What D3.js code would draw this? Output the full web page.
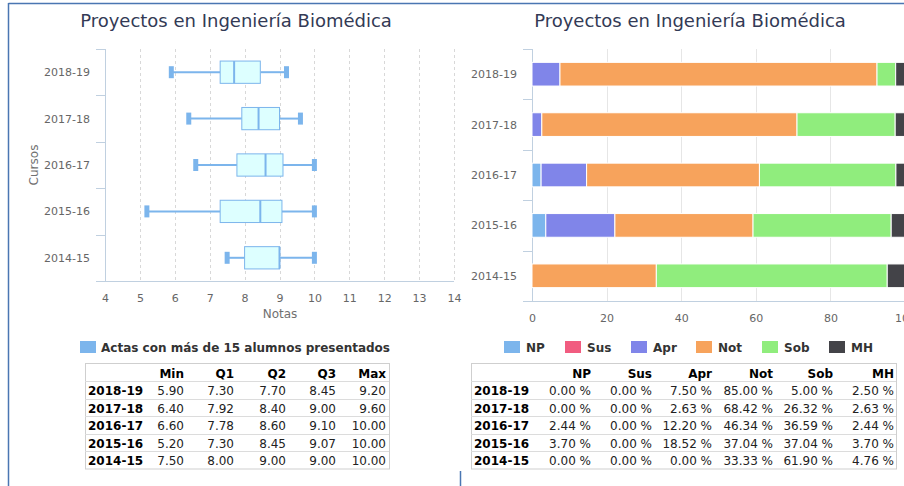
<!DOCTYPE html>
<html>
<head>
<meta charset="utf-8">
<script src="https://cdn.jsdelivr.net/npm/d3@7"></script>
<style>
  body { margin: 0; background: #fff; }
  svg { display: block; font-family: "DejaVu Sans", sans-serif; }
</style>
</head>
<body>
<svg id="graph" width="904" height="486"></svg>
<script>
// Datos
const cursos = ["2018-19", "2017-18", "2016-17", "2015-16", "2014-15"];
const notaMin = [5.90, 6.40, 6.60, 5.20, 7.50];
const notaQ1 = [7.30, 7.92, 7.78, 7.30, 8.00];
const notaQ2 = [7.70, 8.40, 8.60, 8.45, 9.00];
const notaQ3 = [8.45, 9.00, 9.10, 9.07, 9.00];
const notaMax = [9.20, 9.60, 10.00, 10.00, 10.00];
const notaTicks = [4, 5, 6, 7, 8, 9, 10, 11, 12, 13, 14];

const calificaciones = ["NP", "Sus", "Apr", "Not", "Sob", "MH"];
const pctNP = [0.00, 0.00, 2.44, 3.70, 0.00];
const pctSus = [0.00, 0.00, 0.00, 0.00, 0.00];
const pctApr = [7.50, 2.63, 12.20, 18.52, 0.00];
const pctNot = [85.00, 68.42, 46.34, 37.04, 33.33];
const pctSob = [5.00, 26.32, 36.59, 37.04, 61.90];
const pctMH = [2.50, 2.63, 2.44, 3.70, 4.76];
const pctTicks = [0, 20, 40, 60, 80, 100];

const colors = ["#7cb5ec", "#f15c80", "#8085e9", "#f7a35c", "#90ed7d", "#434348"];
const titulo = "Proyectos en Ingeniería Biomédica";

const svg = d3.select("#graph");

// Marco
svg.append("line").attr("x1", 8.5).attr("x2", 904).attr("y1", 3.5).attr("y2", 3.5)
  .attr("stroke", "#4a76b2").attr("stroke-width", 1.5);
svg.append("line").attr("x1", 8.5).attr("x2", 8.5).attr("y1", 3).attr("y2", 486)
  .attr("stroke", "#4a76b2").attr("stroke-width", 1.5);
svg.append("line").attr("x1", 460.5).attr("x2", 460.5).attr("y1", 471).attr("y2", 486)
  .attr("stroke", "#4a76b2").attr("stroke-width", 1.5);

// ---------- Diagrama de cajas ----------
const boxes = cursos.map((c, i) => ({
  curso: c, min: notaMin[i], q1: notaQ1[i], q2: notaQ2[i], q3: notaQ3[i], max: notaMax[i]
}));

const x1 = d3.scaleLinear().domain([4, 14]).range([105, 454]);
const y1 = d3.scaleBand().domain(cursos).range([49, 281]);

svg.append("text").attr("x", 236).attr("y", 27).attr("text-anchor", "middle")
  .attr("font-size", 18).attr("fill", "#333a55").text(titulo);

// Rejilla discontinua
svg.append("g").selectAll("line").data(notaTicks.slice(1)).join("line")
  .attr("x1", d => Math.round(x1(d)) + 0.5).attr("x2", d => Math.round(x1(d)) + 0.5)
  .attr("y1", 49).attr("y2", 281)
  .attr("stroke", "#d8d8d8").attr("stroke-dasharray", "3,3");

// Eje de valores
const ax1 = svg.append("g").attr("transform", "translate(0,281.5)")
  .call(d3.axisBottom(x1).tickValues(notaTicks).tickSize(0).tickPadding(13));
ax1.select(".domain").remove();
ax1.selectAll("text").attr("font-size", 11).attr("fill", "#666").attr("font-family", "DejaVu Sans");
svg.append("line").attr("x1", 96).attr("x2", 454).attr("y1", 281.5).attr("y2", 281.5).attr("stroke", "#c0d0e0");

// Eje de categorías
svg.append("line").attr("x1", 105.5).attr("x2", 105.5).attr("y1", 49).attr("y2", 281).attr("stroke", "#c0d0e0");
svg.append("g").selectAll("line").data(cursos.concat([null])).join("line")
  .attr("x1", 96).attr("x2", 105)
  .attr("y1", (d, i) => Math.round(49 + i * y1.step()) + 0.5)
  .attr("y2", (d, i) => Math.round(49 + i * y1.step()) + 0.5)
  .attr("stroke", "#c0d0e0");
svg.append("g").selectAll("text").data(cursos).join("text")
  .attr("x", 90).attr("y", d => y1(d) + y1.bandwidth() / 2 + 4)
  .attr("text-anchor", "end").attr("font-size", 11).attr("fill", "#666").text(d => d);

svg.append("text").attr("x", 280).attr("y", 318).attr("text-anchor", "middle")
  .attr("font-size", 12).attr("fill", "#707070").text("Notas");
svg.append("text").attr("transform", "translate(38,165) rotate(-90)").attr("text-anchor", "middle")
  .attr("font-size", 12).attr("fill", "#707070").text("Cursos");

const bh = y1.bandwidth() * 0.48;
const gBox = svg.append("g").selectAll("g").data(boxes).join("g")
  .attr("transform", d => `translate(0,${y1(d.curso) + y1.bandwidth() / 2})`);
gBox.append("line").attr("x1", d => x1(d.min)).attr("x2", d => x1(d.q1))
  .attr("y1", 0).attr("y2", 0).attr("stroke", colors[0]).attr("stroke-width", 2);
gBox.append("line").attr("x1", d => x1(d.q3)).attr("x2", d => x1(d.max))
  .attr("y1", 0).attr("y2", 0).attr("stroke", colors[0]).attr("stroke-width", 2);
gBox.append("rect").attr("x", d => x1(d.q1)).attr("y", -bh / 2)
  .attr("width", d => x1(d.q3) - x1(d.q1)).attr("height", bh)
  .attr("fill", "#ddffff").attr("stroke", colors[0]).attr("stroke-width", 1);
gBox.append("line").attr("x1", d => x1(d.q2)).attr("x2", d => x1(d.q2))
  .attr("y1", -bh / 2).attr("y2", bh / 2).attr("stroke", colors[0]).attr("stroke-width", 2);
gBox.selectAll("line.cap").data(d => [d.min, d.max]).join("line").attr("class", "cap")
  .attr("x1", d => x1(d)).attr("x2", d => x1(d)).attr("y1", -6).attr("y2", 6)
  .attr("stroke", colors[0]).attr("stroke-width", 5);

// Leyenda izquierda
svg.append("rect").attr("x", 80).attr("y", 341).attr("width", 16).attr("height", 12).attr("fill", colors[0]);
svg.append("text").attr("x", 101).attr("y", 352).attr("font-size", 12).attr("font-weight", "bold")
  .attr("fill", "#333").text("Actas con más de 15 alumnos presentados");

// ---------- Barras apiladas ----------
const rows = cursos.map((c, i) => ({
  curso: c, NP: pctNP[i], Sus: pctSus[i], Apr: pctApr[i], Not: pctNot[i], Sob: pctSob[i], MH: pctMH[i]
}));
const x2 = d3.scaleLinear().domain([0, 100]).range([532, 905]);
const y2 = d3.scaleBand().domain(cursos).range([49, 301]);

svg.append("text").attr("x", 690).attr("y", 27).attr("text-anchor", "middle")
  .attr("font-size", 18).attr("fill", "#333a55").text(titulo);

svg.append("g").selectAll("line").data(pctTicks.slice(1)).join("line")
  .attr("x1", d => Math.round(x2(d)) + 0.5).attr("x2", d => Math.round(x2(d)) + 0.5)
  .attr("y1", 49).attr("y2", 301).attr("stroke", "#e6e6e6");

const ax2 = svg.append("g").attr("transform", "translate(0,301.5)")
  .call(d3.axisBottom(x2).tickValues(pctTicks).tickSize(0).tickPadding(13));
ax2.select(".domain").remove();
ax2.selectAll("text").attr("font-size", 11).attr("fill", "#666").attr("font-family", "DejaVu Sans");
svg.append("line").attr("x1", 523).attr("x2", 904).attr("y1", 301.5).attr("y2", 301.5).attr("stroke", "#c0d0e0");
svg.append("line").attr("x1", 532.5).attr("x2", 532.5).attr("y1", 49).attr("y2", 301).attr("stroke", "#c0d0e0");
svg.append("g").selectAll("line").data(cursos.concat([null])).join("line")
  .attr("x1", 523).attr("x2", 532)
  .attr("y1", (d, i) => Math.round(49 + i * y2.step()) + 0.5)
  .attr("y2", (d, i) => Math.round(49 + i * y2.step()) + 0.5)
  .attr("stroke", "#c0d0e0");
svg.append("g").selectAll("text").data(cursos).join("text")
  .attr("x", 517).attr("y", d => y2(d) + y2.bandwidth() / 2 + 4)
  .attr("text-anchor", "end").attr("font-size", 11).attr("fill", "#666").text(d => d);

const stack = d3.stack().keys(calificaciones).offset(d3.stackOffsetExpand)(rows);
const barH = y2.bandwidth() * 0.47;
svg.append("g").selectAll("g").data(stack).join("g")
  .attr("fill", (d, i) => colors[i])
  .selectAll("rect").data(d => d).join("rect")
  .attr("x", d => x2(d[0] * 100)).attr("width", d => x2(d[1] * 100) - x2(d[0] * 100))
  .attr("y", d => y2(d.data.curso) + (y2.bandwidth() - barH) / 2).attr("height", barH)
  .attr("stroke", "#fff").attr("stroke-width", 1);

// Leyenda derecha
const legX = [504, 565, 631, 696, 762, 829];
const leg = svg.append("g").selectAll("g").data(calificaciones).join("g")
  .attr("transform", (d, i) => `translate(${legX[i]},341)`);
leg.append("rect").attr("width", 16).attr("height", 12).attr("fill", (d, i) => colors[i]);
leg.append("text").attr("x", 22).attr("y", 11).attr("font-size", 12).attr("font-weight", "bold")
  .attr("fill", "#333").text(d => d);

// ---------- Tablas ----------
function drawTable(x0, x1e, header, headX, body) {
  const g = svg.append("g");
  const top = 363, hh = 18, rh = 17.5;
  const nRows = body.length;
  const bottom = top + hh + nRows * rh;
  g.append("rect").attr("x", x0 + 0.5).attr("y", top + 0.5).attr("width", x1e - x0).attr("height", bottom - top)
    .attr("fill", "none").attr("stroke", "#cfcfcf");
  for (let r = 0; r < nRows; r++) {
    const yl = Math.round(top + hh + r * rh) + 0.5;
    g.append("line").attr("x1", x0).attr("x2", x1e).attr("y1", yl).attr("y2", yl).attr("stroke", "#dcdcdc");
  }
  header.forEach((h, j) => {
    g.append("text").attr("x", headX[j]).attr("y", top + 15).attr("text-anchor", "end")
      .attr("font-size", 12).attr("font-weight", "bold").attr("fill", "#000").text(h);
  });
  body.forEach((row, r) => {
    const yb = top + hh + r * rh + 14;
    g.append("text").attr("x", x0 + 3).attr("y", yb).attr("font-size", 12).attr("font-weight", "bold")
      .attr("fill", "#000").text(row[0]);
    row.slice(1).forEach((v, j) => {
      g.append("text").attr("x", headX[j]).attr("y", yb).attr("text-anchor", "end")
        .attr("font-size", 12).attr("fill", "#222").text(v);
    });
  });
}

const f2 = d3.format(".2f");
drawTable(85, 389, ["Min", "Q1", "Q2", "Q3", "Max"], [184, 234, 286, 336, 386],
  boxes.map(d => [d.curso, f2(d.min), f2(d.q1), f2(d.q2), f2(d.q3), f2(d.max)]));
drawTable(471, 896, calificaciones, [591, 652, 712, 773, 833, 894],
  rows.map(d => [d.curso].concat(calificaciones.map(k => f2(d[k]) + " %"))));
</script>
</body>
</html>
